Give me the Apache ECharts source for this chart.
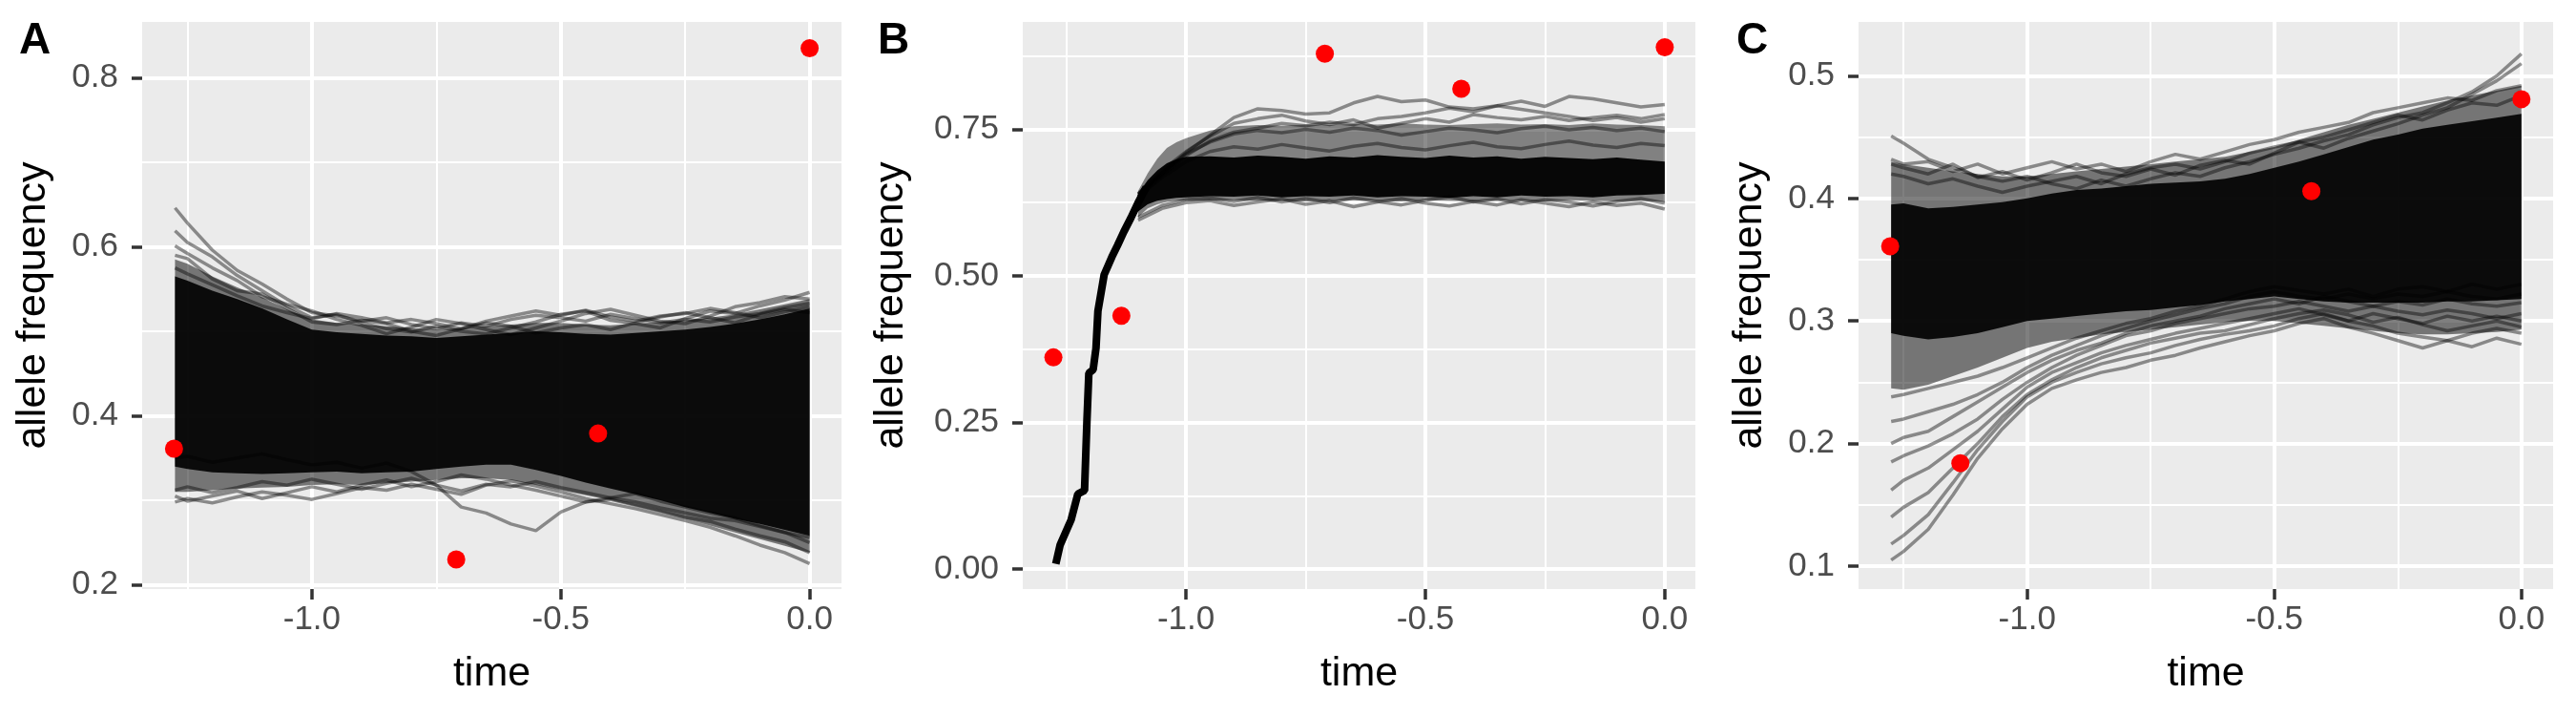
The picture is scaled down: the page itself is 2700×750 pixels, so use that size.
<!DOCTYPE html>
<html>
<head>
<meta charset="utf-8">
<script src="https://cdn.jsdelivr.net/npm/echarts@6/dist/echarts.min.js"></script>
<style>
  html, body { margin: 0; padding: 0; background: #fff; }
  #main { width: 2700px; height: 750px; }
</style>
</head>
<body>
<div id="main"></div>
<script>
var FONT = 'Liberation Sans, Arial, Helvetica, sans-serif';

// time grid shared by panels A and C
var tA = [-1.275, -1.25, -1.2, -1.15, -1.1, -1.05, -1.0, -0.95, -0.9, -0.85, -0.8, -0.75, -0.7,
  -0.65, -0.6, -0.55, -0.5, -0.45, -0.4, -0.35, -0.3, -0.25, -0.2, -0.15, -0.1, -0.05, 0];

// ---- panel A ----
var aSemiTop = [0.585, 0.580, 0.565, 0.552, 0.540, 0.526, 0.514, 0.510, 0.508, 0.506, 0.504, 0.502, 0.504, 0.506, 0.508, 0.510, 0.510, 0.508, 0.507, 0.509, 0.511, 0.513, 0.516, 0.520, 0.526, 0.532, 0.538];
var aSemiBot = [0.310, 0.310, 0.312, 0.314, 0.315, 0.316, 0.318, 0.319, 0.318, 0.320, 0.322, 0.324, 0.326, 0.326, 0.324, 0.318, 0.312, 0.306, 0.300, 0.293, 0.286, 0.278, 0.270, 0.262, 0.254, 0.246, 0.238];
var aCoreTop = [0.565, 0.560, 0.548, 0.538, 0.527, 0.514, 0.502, 0.499, 0.497, 0.495, 0.494, 0.492, 0.494, 0.496, 0.498, 0.500, 0.499, 0.497, 0.496, 0.498, 0.500, 0.502, 0.505, 0.509, 0.514, 0.520, 0.527];
var aCoreBot = [0.340, 0.337, 0.333, 0.332, 0.331, 0.332, 0.333, 0.334, 0.332, 0.333, 0.334, 0.337, 0.340, 0.342, 0.342, 0.336, 0.329, 0.321, 0.314, 0.307, 0.300, 0.292, 0.285, 0.278, 0.272, 0.265, 0.258];
var aU1 = [0.646, 0.628, 0.596, 0.572, 0.556, 0.538, 0.522, 0.518, 0.512, 0.516, 0.508, 0.503, 0.510, 0.506, 0.514, 0.519, 0.516, 0.512, 0.520, 0.515, 0.510, 0.514, 0.511, 0.517, 0.521, 0.528, 0.533];
var aU2 = [0.619, 0.605, 0.588, 0.566, 0.548, 0.530, 0.516, 0.520, 0.510, 0.503, 0.499, 0.506, 0.500, 0.497, 0.504, 0.511, 0.520, 0.524, 0.513, 0.509, 0.504, 0.515, 0.524, 0.521, 0.530, 0.537, 0.546];
var aU3 = [0.601, 0.592, 0.575, 0.560, 0.541, 0.532, 0.524, 0.514, 0.507, 0.497, 0.505, 0.514, 0.509, 0.502, 0.496, 0.504, 0.512, 0.521, 0.526, 0.519, 0.512, 0.509, 0.518, 0.529, 0.534, 0.541, 0.538];
var aU4 = [0.590, 0.586, 0.562, 0.548, 0.544, 0.527, 0.511, 0.508, 0.513, 0.509, 0.500, 0.495, 0.503, 0.510, 0.506, 0.498, 0.504, 0.508, 0.502, 0.510, 0.517, 0.522, 0.516, 0.510, 0.520, 0.526, 0.522];
var aU5 = [0.575, 0.568, 0.555, 0.542, 0.530, 0.522, 0.515, 0.521, 0.516, 0.510, 0.514, 0.509, 0.503, 0.512, 0.518, 0.524, 0.519, 0.525, 0.517, 0.512, 0.518, 0.521, 0.527, 0.522, 0.516, 0.523, 0.529];
var aL1 = [0.298, 0.302, 0.297, 0.304, 0.310, 0.306, 0.301, 0.308, 0.315, 0.312, 0.319, 0.313, 0.307, 0.318, 0.323, 0.317, 0.310, 0.302, 0.296, 0.290, 0.283, 0.276, 0.268, 0.258, 0.247, 0.238, 0.225];
var aL2 = [0.305, 0.299, 0.305, 0.311, 0.302, 0.309, 0.316, 0.310, 0.318, 0.324, 0.316, 0.322, 0.330, 0.325, 0.318, 0.312, 0.305, 0.298, 0.301, 0.294, 0.287, 0.280, 0.275, 0.266, 0.258, 0.251, 0.238];
var aL3 = [0.312, 0.316, 0.309, 0.315, 0.322, 0.318, 0.325, 0.319, 0.313, 0.320, 0.326, 0.318, 0.311, 0.319, 0.316, 0.322, 0.315, 0.309, 0.303, 0.308, 0.299, 0.292, 0.285, 0.279, 0.270, 0.262, 0.250];
var aDip = [0.350, 0.352, 0.345, 0.350, 0.355, 0.348, 0.342, 0.345, 0.338, 0.344, 0.334, 0.318, 0.292, 0.285, 0.272, 0.264, 0.286, 0.298, 0.303, 0.298, 0.291, 0.285, 0.279, 0.276, 0.269, 0.262, 0.256];
var aPtT = [-1.277, -0.71, -0.425, 0];
var aPtV = [0.361, 0.230, 0.379, 0.835];

// ---- panel B ----
var bEarlyT = [-1.272, -1.263, -1.24, -1.226, -1.212, -1.207, -1.203, -1.194, -1.188, -1.184, -1.171, -1.155, -1.143, -1.13, -1.115, -1.1, -1.083];
var bEarlyV = [0.009, 0.041, 0.084, 0.128, 0.134, 0.252, 0.334, 0.340, 0.377, 0.440, 0.502, 0.532, 0.552, 0.575, 0.599, 0.625, 0.651];
var tB = [-1.1, -1.08, -1.06, -1.04, -1.02, -1.0, -0.95, -0.9, -0.85, -0.8, -0.75, -0.7, -0.65,
  -0.6, -0.55, -0.5, -0.45, -0.4, -0.35, -0.3, -0.25, -0.2, -0.15, -0.1, -0.05, 0];
var bCoreTop = [0.640, 0.663, 0.680, 0.692, 0.699, 0.703, 0.704, 0.702, 0.705, 0.703, 0.700, 0.704, 0.702, 0.706, 0.703, 0.701, 0.705, 0.702, 0.704, 0.700, 0.703, 0.701, 0.699, 0.702, 0.698, 0.695];
var bCoreBot = [0.610, 0.622, 0.628, 0.631, 0.633, 0.634, 0.636, 0.635, 0.637, 0.634, 0.636, 0.635, 0.637, 0.634, 0.636, 0.635, 0.633, 0.636, 0.634, 0.637, 0.635, 0.636, 0.634, 0.637, 0.638, 0.640];
var bSemiTop = [0.645, 0.675, 0.700, 0.718, 0.728, 0.735, 0.748, 0.755, 0.757, 0.756, 0.758, 0.757, 0.759, 0.758, 0.760, 0.758, 0.757, 0.759, 0.760, 0.758, 0.759, 0.757, 0.760, 0.758, 0.757, 0.755];
var bSemiBot = [0.600, 0.615, 0.622, 0.626, 0.628, 0.628, 0.628, 0.629, 0.628, 0.629, 0.627, 0.628, 0.629, 0.628, 0.627, 0.629, 0.628, 0.627, 0.629, 0.628, 0.627, 0.629, 0.628, 0.627, 0.628, 0.626];
var tBf = [-1.1, -1.05, -1.0, -0.95, -0.9, -0.85, -0.8, -0.75, -0.7, -0.65, -0.6, -0.55,
  -0.5, -0.45, -0.4, -0.35, -0.3, -0.25, -0.2, -0.15, -0.1, -0.05, 0];
var bL1 = [0.640, 0.675, 0.710, 0.740, 0.770, 0.785, 0.782, 0.776, 0.778, 0.795, 0.806, 0.797, 0.800, 0.788, 0.785, 0.790, 0.784, 0.778, 0.772, 0.765, 0.770, 0.762, 0.768];
var bL2 = [0.635, 0.672, 0.705, 0.730, 0.745, 0.752, 0.760, 0.756, 0.762, 0.758, 0.768, 0.772, 0.778, 0.786, 0.780, 0.790, 0.798, 0.789, 0.806, 0.802, 0.795, 0.788, 0.792];
var bL3 = [0.640, 0.680, 0.712, 0.738, 0.760, 0.768, 0.774, 0.764, 0.758, 0.766, 0.752, 0.760, 0.768, 0.762, 0.775, 0.770, 0.766, 0.772, 0.765, 0.770, 0.774, 0.768, 0.775];
var bL4 = [0.595, 0.615, 0.625, 0.628, 0.620, 0.626, 0.631, 0.622, 0.628, 0.618, 0.626, 0.632, 0.624, 0.619, 0.627, 0.621, 0.630, 0.624, 0.618, 0.626, 0.620, 0.624, 0.614];
var bL5 = [0.600, 0.620, 0.630, 0.633, 0.627, 0.634, 0.626, 0.632, 0.625, 0.633, 0.627, 0.621, 0.629, 0.635, 0.626, 0.631, 0.623, 0.630, 0.626, 0.619, 0.627, 0.632, 0.624];
var bL6 = [0.638, 0.676, 0.708, 0.728, 0.742, 0.748, 0.744, 0.750, 0.745, 0.752, 0.748, 0.740, 0.746, 0.752, 0.749, 0.744, 0.751, 0.755, 0.749, 0.753, 0.748, 0.752, 0.746];
var bL7 = [0.635, 0.668, 0.695, 0.712, 0.720, 0.716, 0.724, 0.718, 0.713, 0.721, 0.726, 0.719, 0.715, 0.722, 0.728, 0.720, 0.717, 0.724, 0.730, 0.723, 0.719, 0.726, 0.722];
var bPtT = [-1.277, -1.135, -0.71, -0.425, 0];
var bPtV = [0.361, 0.432, 0.879, 0.819, 0.890];

// ---- panel C ----
var cSemiTop = [0.430, 0.428, 0.425, 0.422, 0.420, 0.418, 0.418, 0.420, 0.422, 0.424, 0.426, 0.428, 0.430, 0.432, 0.434, 0.438, 0.442, 0.448, 0.454, 0.460, 0.465, 0.470, 0.475, 0.480, 0.484, 0.488, 0.492];
var cSemiBot = [0.245, 0.244, 0.248, 0.255, 0.262, 0.270, 0.278, 0.283, 0.286, 0.289, 0.291, 0.293, 0.295, 0.297, 0.299, 0.300, 0.300, 0.298, 0.296, 0.294, 0.292, 0.290, 0.289, 0.289, 0.290, 0.291, 0.293];
var cCoreTop = [0.395, 0.396, 0.392, 0.393, 0.395, 0.397, 0.400, 0.404, 0.407, 0.408, 0.410, 0.412, 0.413, 0.414, 0.416, 0.420, 0.425, 0.430, 0.436, 0.442, 0.448, 0.452, 0.457, 0.460, 0.463, 0.466, 0.469];
var cCoreBot = [0.290, 0.288, 0.285, 0.287, 0.290, 0.295, 0.300, 0.302, 0.304, 0.306, 0.308, 0.309, 0.311, 0.313, 0.316, 0.318, 0.320, 0.318, 0.316, 0.315, 0.315, 0.315, 0.315, 0.316, 0.316, 0.317, 0.318];
var cU1 = [0.451, 0.445, 0.432, 0.425, 0.418, 0.414, 0.418, 0.412, 0.408, 0.415, 0.410, 0.416, 0.421, 0.418, 0.425, 0.430, 0.436, 0.441, 0.447, 0.452, 0.460, 0.466, 0.470, 0.478, 0.487, 0.500, 0.518];
var cU2 = [0.432, 0.428, 0.430, 0.422, 0.428, 0.420, 0.425, 0.430, 0.424, 0.428, 0.422, 0.430, 0.436, 0.432, 0.438, 0.444, 0.448, 0.454, 0.458, 0.462, 0.470, 0.474, 0.478, 0.482, 0.480, 0.488, 0.492];
var cU3 = [0.428, 0.425, 0.420, 0.428, 0.417, 0.422, 0.415, 0.421, 0.428, 0.421, 0.418, 0.424, 0.419, 0.427, 0.431, 0.428, 0.437, 0.446, 0.450, 0.456, 0.462, 0.468, 0.464, 0.472, 0.478, 0.476, 0.484];
var cU4 = [0.420, 0.418, 0.412, 0.416, 0.410, 0.405, 0.410, 0.414, 0.418, 0.412, 0.420, 0.425, 0.428, 0.424, 0.430, 0.437, 0.442, 0.446, 0.441, 0.449, 0.455, 0.461, 0.468, 0.474, 0.485, 0.496, 0.510];
var cL1 = [0.105, 0.112, 0.130, 0.158, 0.188, 0.212, 0.232, 0.245, 0.252, 0.258, 0.262, 0.268, 0.272, 0.278, 0.283, 0.288, 0.292, 0.298, 0.302, 0.295, 0.290, 0.284, 0.278, 0.284, 0.279, 0.286, 0.281];
var cL2 = [0.118, 0.125, 0.142, 0.168, 0.195, 0.218, 0.238, 0.250, 0.258, 0.265, 0.270, 0.274, 0.280, 0.285, 0.289, 0.292, 0.296, 0.302, 0.306, 0.300, 0.296, 0.290, 0.287, 0.284, 0.290, 0.294, 0.290];
var cL3 = [0.140, 0.148, 0.160, 0.180, 0.200, 0.222, 0.240, 0.252, 0.262, 0.270, 0.276, 0.282, 0.286, 0.290, 0.292, 0.297, 0.302, 0.306, 0.309, 0.305, 0.299, 0.303, 0.297, 0.292, 0.296, 0.300, 0.295];
var cL4 = [0.162, 0.170, 0.180, 0.195, 0.210, 0.228, 0.246, 0.258, 0.266, 0.274, 0.280, 0.285, 0.290, 0.294, 0.298, 0.302, 0.306, 0.310, 0.305, 0.300, 0.306, 0.302, 0.298, 0.304, 0.300, 0.304, 0.300];
var cL5 = [0.185, 0.190, 0.198, 0.208, 0.220, 0.236, 0.250, 0.262, 0.272, 0.280, 0.288, 0.292, 0.298, 0.302, 0.306, 0.310, 0.312, 0.316, 0.312, 0.308, 0.312, 0.308, 0.305, 0.309, 0.306, 0.302, 0.306];
var cL6 = [0.200, 0.205, 0.210, 0.222, 0.234, 0.246, 0.258, 0.268, 0.276, 0.282, 0.290, 0.296, 0.300, 0.304, 0.310, 0.314, 0.318, 0.314, 0.320, 0.316, 0.312, 0.316, 0.313, 0.318, 0.314, 0.312, 0.315];
var cL7 = [0.218, 0.220, 0.226, 0.232, 0.240, 0.250, 0.262, 0.272, 0.280, 0.288, 0.294, 0.300, 0.305, 0.310, 0.314, 0.320, 0.324, 0.320, 0.318, 0.322, 0.318, 0.322, 0.320, 0.324, 0.320, 0.318, 0.322];
var cL8 = [0.238, 0.240, 0.245, 0.250, 0.255, 0.262, 0.270, 0.278, 0.286, 0.292, 0.298, 0.302, 0.308, 0.312, 0.318, 0.324, 0.328, 0.325, 0.322, 0.326, 0.320, 0.326, 0.328, 0.324, 0.330, 0.326, 0.330];
var cPtT = [-1.277, -1.135, -0.425, 0];
var cPtV = [0.361, 0.184, 0.406, 0.481];

function pairs(ts, vs) {
  return ts.map(function (t, i) { return [t, vs[i]]; });
}

function trace(gi, ts, vs) {
  return {
    type: 'line', xAxisIndex: gi, yAxisIndex: gi, silent: true,
    data: pairs(ts, vs), symbol: 'none',
    lineStyle: { color: 'rgba(0,0,0,0.42)', width: 3.5 }
  };
}

// filled region between the upper and lower edge of the trajectory bundle
function band(gi, ts, top, bot, fill) {
  return {
    type: 'custom', xAxisIndex: gi, yAxisIndex: gi, silent: true,
    data: [[ts[0], top[0]]],
    renderItem: function (params, api) {
      var pts = [];
      for (var i = 0; i < ts.length; i++) pts.push(api.coord([ts[i], top[i]]));
      for (var j = ts.length - 1; j >= 0; j--) pts.push(api.coord([ts[j], bot[j]]));
      return { type: 'polygon', shape: { points: pts }, style: { fill: fill } };
    }
  };
}

function dots(gi, ts, vs) {
  return {
    type: 'scatter', xAxisIndex: gi, yAxisIndex: gi, silent: true,
    data: pairs(ts, vs), symbolSize: 19,
    itemStyle: { color: '#FF0000', opacity: 1 }, z: 5
  };
}

// axis line kept "on" but invisible so ticks are still drawn
var hiddenLine = { show: true, onZero: false, lineStyle: { color: 'rgba(0,0,0,0)', width: 0 } };

function xAx(gi) {
  return {
    gridIndex: gi, type: 'value', min: -1.341, max: 0.064,
    minInterval: 0.5, maxInterval: 0.5,
    name: 'time', nameLocation: 'middle', nameGap: 68,
    nameTextStyle: { color: '#000', fontSize: 43, fontFamily: FONT },
    axisLine: hiddenLine,
    axisTick: { show: true, length: 11, lineStyle: { color: '#333', width: 3.5 } },
    axisLabel: {
      showMinLabel: false, showMaxLabel: false,
      margin: 15, color: '#4D4D4D', fontSize: 35, fontFamily: FONT,
      formatter: function (v) { return v.toFixed(1); }
    },
    splitLine: { show: true, showMinLine: false, showMaxLine: false, lineStyle: { color: '#fff', width: 4 } },
    minorTick: { show: false, splitNumber: 2 },
    minorSplitLine: { show: true, lineStyle: { color: '#fff', width: 2 } }
  };
}

function yAx(gi, mn, mx, step, digits, gap) {
  return {
    gridIndex: gi, type: 'value', min: mn, max: mx,
    minInterval: step, maxInterval: step,
    name: 'allele frequency', nameLocation: 'middle', nameGap: gap,
    nameTextStyle: { color: '#000', fontSize: 43, fontFamily: FONT },
    axisLine: hiddenLine,
    axisTick: { show: true, length: 11, lineStyle: { color: '#333', width: 3.5 } },
    axisLabel: {
      showMinLabel: false, showMaxLabel: false,
      margin: 25, color: '#4D4D4D', fontSize: 35, fontFamily: FONT,
      formatter: function (v) { return v.toFixed(digits); }
    },
    splitLine: { show: true, showMinLine: false, showMaxLine: false, lineStyle: { color: '#fff', width: 4 } },
    minorTick: { show: false, splitNumber: 2 },
    minorSplitLine: { show: true, lineStyle: { color: '#fff', width: 2 } }
  };
}

var myChart = echarts.init(document.getElementById('main'));

var option = {
  animation: false,
  backgroundColor: '#fff',
  grid: [
    { left: 149, top: 23, width: 733, height: 594, show: true, backgroundColor: '#EBEBEB', borderWidth: 0 },
    { left: 1072, top: 23, width: 705, height: 594, show: true, backgroundColor: '#EBEBEB', borderWidth: 0 },
    { left: 1948, top: 23, width: 728, height: 594, show: true, backgroundColor: '#EBEBEB', borderWidth: 0 }
  ],
  xAxis: [xAx(0), xAx(1), xAx(2)],
  yAxis: [
    yAx(0, 0.195, 0.866, 0.2, 1, 92),
    yAx(1, -0.034, 0.933, 0.25, 2, 116),
    yAx(2, 0.0813, 0.544, 0.1, 1, 92)
  ],
  graphic: [
    { type: 'text', left: 20, top: 20, style: { text: 'A', fill: '#000', font: 'bold 46px ' + FONT } },
    { type: 'text', left: 920, top: 20, style: { text: 'B', fill: '#000', font: 'bold 46px ' + FONT } },
    { type: 'text', left: 1820, top: 20, style: { text: 'C', fill: '#000', font: 'bold 46px ' + FONT } }
  ],
  series: [
    // A
    band(0, tA, aSemiTop, aSemiBot, 'rgba(0,0,0,0.5)'),
    band(0, tA, aCoreTop, aCoreBot, 'rgba(0,0,0,0.9)'),
    trace(0, tA, aU1), trace(0, tA, aU2), trace(0, tA, aU3), trace(0, tA, aU4), trace(0, tA, aU5),
    trace(0, tA, aL1), trace(0, tA, aL2), trace(0, tA, aL3), trace(0, tA, aDip),
    dots(0, aPtT, aPtV),
    // B
    band(1, tB, bSemiTop, bSemiBot, 'rgba(0,0,0,0.45)'),
    band(1, tB, bCoreTop, bCoreBot, 'rgba(0,0,0,0.95)'),
    {
      type: 'line', xAxisIndex: 1, yAxisIndex: 1, silent: true, symbol: 'none',
      data: pairs(bEarlyT, bEarlyV), lineStyle: { color: '#000', width: 8 }
    },
    trace(1, tBf, bL1), trace(1, tBf, bL2), trace(1, tBf, bL3), trace(1, tBf, bL4),
    trace(1, tBf, bL5), trace(1, tBf, bL6), trace(1, tBf, bL7),
    dots(1, bPtT, bPtV),
    // C
    band(2, tA, cSemiTop, cSemiBot, 'rgba(0,0,0,0.5)'),
    band(2, tA, cCoreTop, cCoreBot, 'rgba(0,0,0,0.9)'),
    trace(2, tA, cU1), trace(2, tA, cU2), trace(2, tA, cU3), trace(2, tA, cU4),
    trace(2, tA, cL1), trace(2, tA, cL2), trace(2, tA, cL3), trace(2, tA, cL4),
    trace(2, tA, cL5), trace(2, tA, cL6), trace(2, tA, cL7), trace(2, tA, cL8),
    dots(2, cPtT, cPtV)
  ]
};

myChart.setOption(option);
</script>
</body>
</html>
